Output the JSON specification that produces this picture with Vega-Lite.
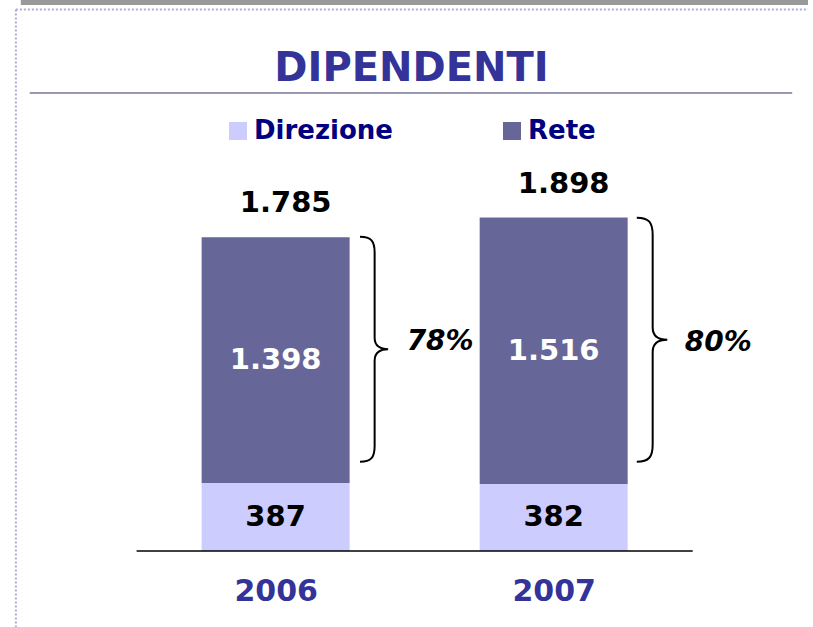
{
  "$schema": "https://vega.github.io/schema/vega-lite/v6.json",
  "width": 813,
  "height": 551,
  "autosize": "none",
  "padding": {"left": 0, "top": 0, "right": 0, "bottom": 76},
  "background": "white",
  "config": {
    "view": {"stroke": null},
    "font": "DejaVu Sans",
    "locale": {"number": {"decimal": ",", "thousands": ".", "grouping": [3], "currency": ["", " €"]}}
  },
  "title": {
    "text": "DIPENDENTI",
    "font": "DejaVu Sans",
    "fontSize": 40,
    "fontWeight": "bold",
    "color": "#333399",
    "anchor": "middle",
    "frame": "group",
    "baseline": "alphabetic",
    "offset": -121,
    "dx": 5
  },
  "data": {
    "values": [
      {"year": 2006, "type": "Direzione", "value": 387},
      {"year": 2006, "type": "Rete", "value": 1398, "share": 0.78},
      {"year": 2007, "type": "Direzione", "value": 382},
      {"year": 2007, "type": "Rete", "value": 1516, "share": 0.80}
    ]
  },
  "layer": [
    {
      "data": {"values": [{}]},
      "mark": {"type": "rect", "color": "#999999"},
      "encoding": {
        "x": {"datum": 2005.0835, "type": "quantitative", "scale": {"domain": [2005.02664, 2007.91474], "nice": false, "zero": false},
              "axis": {"values": [2006, 2007], "format": "d", "title": null, "domain": false, "ticks": false, "tickSize": 0, "grid": false, "labelFont": "DejaVu Sans", "labelFontWeight": "bold", "labelFontSize": 30, "labelColor": "#333399", "labelPadding": 25}},
        "x2": {"datum": 2007.91474},
        "y": {"datum": 3107.5, "type": "quantitative", "scale": {"domain": [0, 3136], "nice": false, "zero": false}, "axis": null},
        "y2": {"datum": 3136}
      }
    },
    {
      "data": {"values": [{}]},
      "mark": {"type": "rule", "color": "#aaaadd", "strokeWidth": 2, "strokeDash": [2, 2]},
      "encoding": {
        "x": {"datum": 2005.0657, "type": "quantitative", "scale": {"domain": [2005.02664, 2007.91474], "nice": false, "zero": false},
              "axis": {"values": [2006, 2007], "format": "d", "title": null, "domain": false, "ticks": false, "tickSize": 0, "grid": false, "labelFont": "DejaVu Sans", "labelFontWeight": "bold", "labelFontSize": 30, "labelColor": "#333399", "labelPadding": 25}},
        "x2": {"datum": 2007.91474},
        "y": {"datum": 3081.9, "type": "quantitative", "scale": {"domain": [0, 3136], "nice": false, "zero": false}, "axis": null}
      }
    },
    {
      "data": {"values": [{}]},
      "mark": {"type": "rule", "color": "#aaaadd", "strokeWidth": 2, "strokeDash": [2, 2]},
      "encoding": {
        "x": {"datum": 2005.0657, "type": "quantitative", "scale": {"domain": [2005.02664, 2007.91474], "nice": false, "zero": false},
              "axis": {"values": [2006, 2007], "format": "d", "title": null, "domain": false, "ticks": false, "tickSize": 0, "grid": false, "labelFont": "DejaVu Sans", "labelFontWeight": "bold", "labelFontSize": 30, "labelColor": "#333399", "labelPadding": 25}},
        "y": {"datum": 3081.9, "type": "quantitative", "scale": {"domain": [0, 3136], "nice": false, "zero": false}, "axis": null},
        "y2": {"datum": -440}
      }
    },
    {
      "data": {"values": [{}]},
      "mark": {"type": "rule", "color": "#333366", "strokeWidth": 1},
      "encoding": {
        "x": {"datum": 2005.1155, "type": "quantitative", "scale": {"domain": [2005.02664, 2007.91474], "nice": false, "zero": false},
              "axis": {"values": [2006, 2007], "format": "d", "title": null, "domain": false, "ticks": false, "tickSize": 0, "grid": false, "labelFont": "DejaVu Sans", "labelFontWeight": "bold", "labelFontSize": 30, "labelColor": "#333399", "labelPadding": 25}},
        "x2": {"datum": 2007.8579},
        "y": {"datum": 2606.7, "type": "quantitative", "scale": {"domain": [0, 3136], "nice": false, "zero": false}, "axis": null}
      }
    },
    {
      "mark": {"type": "bar", "orient": "vertical", "size": 148},
      "encoding": {
        "x": {"field": "year", "type": "quantitative", "scale": {"domain": [2005.02664, 2007.91474], "nice": false, "zero": false},
              "axis": {"values": [2006, 2007], "format": "d", "title": null, "domain": false, "ticks": false, "tickSize": 0, "grid": false, "labelFont": "DejaVu Sans", "labelFontWeight": "bold", "labelFontSize": 30, "labelColor": "#333399", "labelPadding": 25}},
        "y": {"field": "value", "type": "quantitative", "stack": "zero", "scale": {"domain": [0, 3136], "nice": false, "zero": false}, "axis": null},
        "order": {"field": "type", "sort": "ascending"},
        "color": {
          "field": "type", "type": "nominal",
          "scale": {"domain": ["Direzione", "Rete"], "range": ["#CCCCFF", "#666699"]},
          "legend": {
            "orient": "none", "legendX": 225, "legendY": 118, "direction": "horizontal", "title": null,
            "symbolType": "square", "symbolSize": 324, "symbolStrokeWidth": 0, "symbolOpacity": 1,
            "labelFont": "DejaVu Sans", "labelFontWeight": "bold", "labelFontSize": 26, "labelColor": "#000080",
            "labelOffset": 3, "columnPadding": 105, "padding": 0, "labelLimit": 300
          }
        }
      }
    },
    {
      "mark": {"type": "text", "font": "DejaVu Sans", "fontWeight": "bold", "fontSize": 29, "baseline": "middle", "align": "center"},
      "encoding": {
        "x": {"field": "year", "type": "quantitative", "scale": {"domain": [2005.02664, 2007.91474], "nice": false, "zero": false},
              "axis": {"values": [2006, 2007], "format": "d", "title": null, "domain": false, "ticks": false, "tickSize": 0, "grid": false, "labelFont": "DejaVu Sans", "labelFontWeight": "bold", "labelFontSize": 30, "labelColor": "#333399", "labelPadding": 25}},
        "y": {"field": "value", "type": "quantitative", "stack": "zero", "bandPosition": 0.5, "scale": {"domain": [0, 3136], "nice": false, "zero": false}, "axis": null},
        "order": {"field": "type", "sort": "ascending"},
        "detail": {"field": "type"},
        "text": {"field": "value", "type": "quantitative", "format": ",d"},
        "color": {"condition": {"test": "datum.type === 'Rete'", "value": "white"}, "value": "black"}
      }
    },
    {
      "transform": [{"aggregate": [{"op": "sum", "field": "value", "as": "total"}], "groupby": ["year"]}],
      "mark": {"type": "text", "font": "DejaVu Sans", "fontWeight": "bold", "fontSize": 29, "baseline": "alphabetic", "align": "center", "dy": -25, "dx": 10, "color": "black"},
      "encoding": {
        "x": {"field": "year", "type": "quantitative", "scale": {"domain": [2005.02664, 2007.91474], "nice": false, "zero": false},
              "axis": {"values": [2006, 2007], "format": "d", "title": null, "domain": false, "ticks": false, "tickSize": 0, "grid": false, "labelFont": "DejaVu Sans", "labelFontWeight": "bold", "labelFontSize": 30, "labelColor": "#333399", "labelPadding": 25}},
        "y": {"field": "total", "type": "quantitative", "scale": {"domain": [0, 3136], "nice": false, "zero": false}, "axis": null},
        "text": {"field": "total", "type": "quantitative", "format": ",d"}
      }
    },
    {
      "mark": {
        "type": "point",
        "shape": "M-0.13,-1 C-0.03,-1 0,-0.96 0,-0.86 L0,-0.1 C0,-0.03 0.05,0 0.12,0 C0.05,0 0,0.03 0,0.1 L0,0.86 C0,0.96 -0.03,1 -0.13,1",
        "filled": false, "stroke": "black", "strokeWidth": 2, "xOffset": 99, "yOffset": -11
      },
      "encoding": {
        "x": {"field": "year", "type": "quantitative", "scale": {"domain": [2005.02664, 2007.91474], "nice": false, "zero": false},
              "axis": {"values": [2006, 2007], "format": "d", "title": null, "domain": false, "ticks": false, "tickSize": 0, "grid": false, "labelFont": "DejaVu Sans", "labelFontWeight": "bold", "labelFontSize": 30, "labelColor": "#333399", "labelPadding": 25}},
        "y": {"field": "value", "type": "quantitative", "stack": "zero", "bandPosition": 0.5, "scale": {"domain": [0, 3136], "nice": false, "zero": false}, "axis": null},
        "order": {"field": "type", "sort": "ascending"},
        "detail": {"field": "type"},
        "size": {"field": "value", "type": "quantitative", "scale": {"type": "pow", "exponent": 2, "domain": [0, 1516], "range": [0, 59578]}, "legend": null},
        "opacity": {"condition": {"test": "datum.type === 'Rete'", "value": 1}, "value": 0}
      }
    },
    {
      "mark": {"type": "text", "font": "DejaVu Sans", "fontWeight": "bold", "fontStyle": "italic", "fontSize": 28, "baseline": "middle", "align": "left", "dx": 131, "dy": -141, "color": "black"},
      "encoding": {
        "x": {"field": "year", "type": "quantitative", "scale": {"domain": [2005.02664, 2007.91474], "nice": false, "zero": false},
              "axis": {"values": [2006, 2007], "format": "d", "title": null, "domain": false, "ticks": false, "tickSize": 0, "grid": false, "labelFont": "DejaVu Sans", "labelFontWeight": "bold", "labelFontSize": 30, "labelColor": "#333399", "labelPadding": 25}},
        "y": {"field": "value", "type": "quantitative", "stack": "zero", "bandPosition": 0, "scale": {"domain": [0, 3136], "nice": false, "zero": false}, "axis": null},
        "order": {"field": "type", "sort": "ascending"},
        "detail": {"field": "type"},
        "text": {"condition": {"test": "datum.type === 'Rete'", "field": "share", "type": "quantitative", "format": ".0%"}, "value": ""}
      }
    },
    {
      "data": {"values": [{}]},
      "mark": {"type": "rule", "color": "black", "strokeWidth": 1.5},
      "encoding": {
        "x": {"datum": 2005.5, "type": "quantitative", "scale": {"domain": [2005.02664, 2007.91474], "nice": false, "zero": false},
              "axis": {"values": [2006, 2007], "format": "d", "title": null, "domain": false, "ticks": false, "tickSize": 0, "grid": false, "labelFont": "DejaVu Sans", "labelFontWeight": "bold", "labelFontSize": 30, "labelColor": "#333399", "labelPadding": 25}},
        "x2": {"datum": 2007.5},
        "y": {"datum": 0, "type": "quantitative", "scale": {"domain": [0, 3136], "nice": false, "zero": false}, "axis": null}
      }
    }
  ]
}
